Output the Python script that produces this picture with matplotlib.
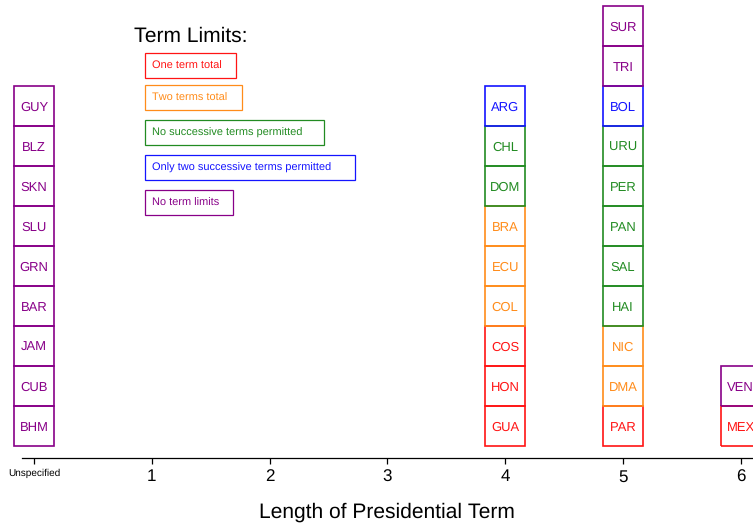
import matplotlib.pyplot as plt
from matplotlib.patches import Rectangle

plt.rcParams['font.family'] = ['Liberation Sans', 'DejaVu Sans']
plt.rcParams['text.hinting'] = 'no_hinting'
plt.rcParams['text.hinting_factor'] = 1

# data: country, term length (0 = unspecified), term limit type
paises = ['BHM', 'CUB', 'JAM', 'BAR', 'GRN', 'SLU', 'SKN', 'BLZ', 'GUY',
          'GUA', 'HON', 'COS', 'COL', 'ECU', 'BRA', 'DOM', 'CHL', 'ARG',
          'PAR', 'DMA', 'NIC', 'HAI', 'SAL', 'PAN', 'PER', 'URU', 'BOL', 'TRI', 'SUR',
          'MEX', 'VEN']
mandato = [0, 0, 0, 0, 0, 0, 0, 0, 0,
           4, 4, 4, 4, 4, 4, 4, 4, 4,
           5, 5, 5, 5, 5, 5, 5, 5, 5, 5, 5,
           6, 6]
limite = ['none'] * 9 + \
         ['one', 'one', 'one', 'two', 'two', 'two', 'nosucc', 'nosucc', 'twosucc'] + \
         ['one', 'two', 'two', 'nosucc', 'nosucc', 'nosucc', 'nosucc', 'nosucc', 'twosucc', 'none', 'none'] + \
         ['one', 'none']

tipos = ['one', 'two', 'nosucc', 'twosucc', 'none']
nomes_tipos = ['One term total', 'Two terms total', 'No successive terms permitted',
               'Only two successive terms permitted', 'No term limits']
cores = {'one': '#ff1414', 'two': '#ff8c1a', 'nosucc': '#228b22',
         'twosucc': '#1414ff', 'none': '#880088'}

ticks = [0, 1, 2, 3, 4, 5, 6]
tick_labels = ['Unspecified', '1', '2', '3', '4', '5', '6']

fig = plt.figure(figsize=(7.53, 5.23), dpi=100)
ax = fig.add_axes([0, 0, 1, 1])
xmin, xmax = -0.289, 6.104
ax.set_xlim(xmin, xmax)
ax.set_ylim(-1.925, 11.15)

# empilhar as caixas por coluna
altura = {}
for p, m, l in zip(paises, mandato, limite):
    nivel = altura.get(m, 0)
    altura[m] = nivel + 1
    c = cores[l]
    ax.bar(m, 1, bottom=nivel, width=0.34, fill=False, edgecolor=c, linewidth=1.2)
    ax.text(m, nivel + 0.47, p, color=c, fontsize=9, ha='center', va='center')

# legenda
ax.text(0.85, 10.25, 'Term Limits:', fontsize=15, ha='left', va='center')
leg_y = [9.5, 8.7, 7.825, 6.95, 6.075]
textos = []
for t, nome, y in zip(tipos, nomes_tipos, leg_y):
    textos.append(ax.text(1.0, y, nome, color=cores[t], fontsize=8,
                          ha='left', va='center'))

# caixas da legenda a partir da largura do texto (em pixels)
fig.canvas.draw()
r = fig.canvas.get_renderer()
inv = ax.transData.inverted()
for t, txt in zip(tipos, textos):
    bb = txt.get_window_extent(r)
    yc = (bb.y0 + bb.y1) / 2 + 1
    x0, y0 = inv.transform((bb.x0 - 7, yc - 12.5))
    x1, y1 = inv.transform((bb.x1 + 0.09 * bb.width + 8, yc + 12.5))
    ax.add_patch(Rectangle((x0, y0), x1 - x0, y1 - y0, fill=False,
                           ec=cores[t], lw=0.9))

# eixo
for s in ['left', 'top', 'right']:
    ax.spines[s].set_visible(False)
ax.spines['bottom'].set_position(('data', -0.3))
ax.spines['bottom'].set_bounds(-0.1, 7)
ax.spines['bottom'].set_linewidth(0.9)
ax.set_yticks([])
ax.set_xticks(ticks)
ax.set_xticklabels(tick_labels)
ax.tick_params(axis='x', direction='out', length=4, width=0.9, pad=4)
for lab in ax.get_xticklabels():
    lab.set_fontsize(7 if lab.get_text() == 'Unspecified' else 12.5)

ax.set_xlabel('Length of Presidential Term', fontsize=15)
ax.xaxis.set_label_coords((3 - xmin) / (xmax - xmin), 0.04)

plt.savefig('out.png', dpi=100)
